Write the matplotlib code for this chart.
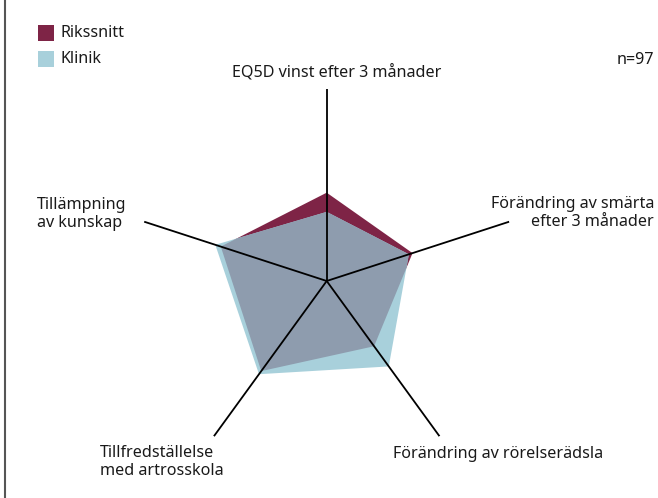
import numpy as np
import matplotlib
matplotlib.use("Agg")
import matplotlib.pyplot as plt
from matplotlib.patches import Polygon
from matplotlib.lines import Line2D

# ---- data ----
categories = ["EQ5D vinst efter 3 månader",
              "Förändring av smärta\nefter 3 månader",
              "Förändring av rörelserädsla",
              "Tillfredställelse\nmed artrosskola",
              "Tillämpning\nav kunskap"]
rikssnitt = [46, 47, 42, 58, 58]
klinik = [36, 45, 55, 60, 61]
series_names = ["Rikssnitt", "Klinik"]
n_text = "n=97"
rmax = 100

RED = "#7E2446"
BLUE = "#A8D0DB"
OVERLAP = "#8E9CAE"

plt.rcParams['font.family'] = ['Noto Sans', 'DejaVu Sans']

W, H = 658, 498
fig = plt.figure(figsize=(W / 100, H / 100), dpi=100)

cx, cy, R = 326.7, 281.0, 192.0
ax = fig.add_axes([(cx - R) / W, (H - cy - R) / H, 2 * R / W, 2 * R / H], projection='polar')
ax.set_theta_offset(np.pi / 2)
ax.set_theta_direction(-1)
ax.set_ylim(0, rmax)
ax.set_axis_off()

N = len(categories)
angles = np.arange(N) * 2 * np.pi / N

def verts(vals):
    return np.column_stack([angles, vals])

red_poly = Polygon(verts(rikssnitt), closed=True, facecolor=RED, edgecolor='none',
                   transform=ax.transData, zorder=1)
blue_poly = Polygon(verts(klinik), closed=True, facecolor=BLUE, edgecolor='none',
                    transform=ax.transData, zorder=2)
ax.add_patch(red_poly)
ax.add_patch(blue_poly)
ov = Polygon(verts(rikssnitt), closed=True, facecolor=OVERLAP, edgecolor='none',
             transform=ax.transData, zorder=3)
ax.add_patch(ov)
ov.set_clip_path(blue_poly)

for a in angles:
    ax.plot([a, a], [0, rmax], color='black', lw=1.3, zorder=5, solid_capstyle='butt')

fs = 11.6
def ft(x, y, s, **kw):
    fig.text(x / W, 1 - y / H, s, fontsize=fs, color='#1a1a1a', **kw)

ft(337, 72, categories[0], ha='center', va='center')
ft(654, 213, categories[1], ha='right', va='center', linespacing=1.15)
ft(393, 454, categories[2], ha='left', va='center')
ft(100, 462, categories[3], ha='left', va='center', linespacing=1.15)
ft(37, 214, categories[4], ha='left', va='center', linespacing=1.15)
ft(654, 60, n_text, ha='right', va='center')

# legend
for i, (name, col) in enumerate(zip(series_names, [RED, BLUE])):
    y = 33 + i * 25.7
    fig.patches.append(matplotlib.patches.Rectangle(((37.5) / W, 1 - (y + 8) / H), 16 / W, 16 / H,
                                                    transform=fig.transFigure, facecolor=col,
                                                    edgecolor='none'))
    ft(60, y, name, ha='left', va='center')

# left border line
fig.add_artist(Line2D([5 / W, 5 / W], [0, 1], transform=fig.transFigure, color='#555555', lw=1.5))

fig.savefig("out.png", dpi=100)
